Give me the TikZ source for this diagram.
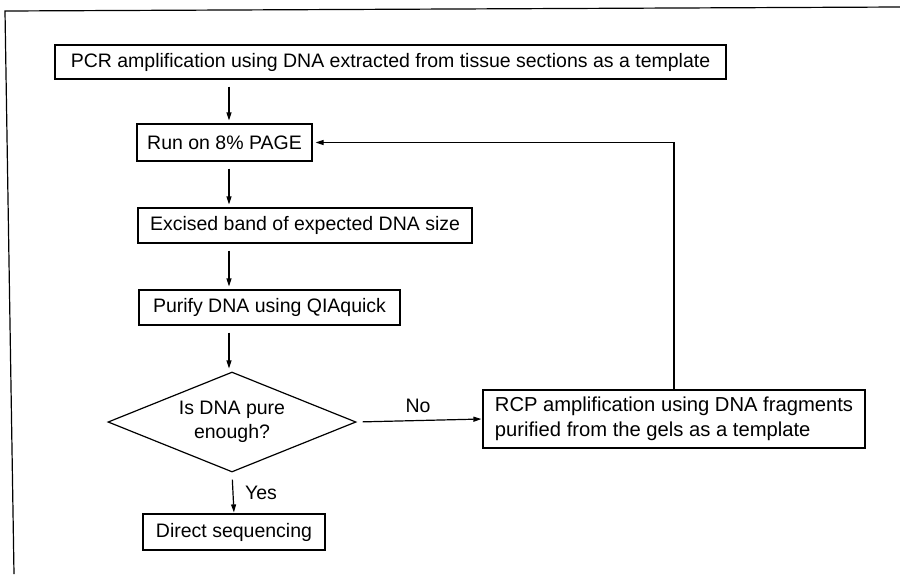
\documentclass[tikz,border=0pt]{standalone}
\usepackage{fontspec}
\setmainfont{Liberation Sans}
\usetikzlibrary{arrows.meta,shapes.geometric}
\begin{document}
\begin{tikzpicture}[x=1pt,y=-1pt,
  every node/.style={font=\fontsize{19.5}{24.5}\selectfont},
  box/.style={draw,line width=1.2pt,inner sep=0pt,align=center},
  dec/.style={draw,line width=1.2pt,diamond,aspect=2.48,inner sep=0pt,minimum width=248pt,minimum height=100pt,align=center},
  lbl/.style={inner sep=0pt},
  arr/.style={line width=1.2pt,-{Triangle[length=8pt,width=5pt]},shorten <=7pt,shorten >=3pt}]
\useasboundingbox (0,0) rectangle (900,574);
% frame
\draw[line width=1.2pt] (900,7) -- (5,11) -- (14,574);
% nodes
\node[box,minimum width=671pt,minimum height=34pt] (b1) at (390.5,62) {PCR amplification using DNA extracted from tissue sections as a template};
\node[box,minimum width=175pt,minimum height=37pt] (b2) at (224.5,142.5) {Run on 8\% PAGE};
\node[box,minimum width=334pt,minimum height=35pt] (b3) at (305,225.5) {Excised band of expected DNA size};
\node[box,minimum width=261pt,minimum height=35pt] (b4) at (269.5,307.5) {Purify DNA using QIAquick};
\node[dec] (d) at (232,422) {Is DNA pure\\enough?};
\node[box,minimum width=382pt,minimum height=58pt,align=left] (b5) at (674,419) {\fontsize{20.2}{24.5}\selectfont RCP amplification using DNA fragments\\\fontsize{20.2}{24.5}\selectfont purified from the gels as a template};
\node[box,minimum width=182pt,minimum height=36pt] (b6) at (234,532) {Direct sequencing};
\node[lbl] (no) at (418,406) {No};
\node[lbl] (yes) at (261,493) {Yes};
\coordinate (ax) at (229,0);
% connectors
\draw[arr] (b1.south -| ax) -- (b2.north -| ax);
\draw[arr] (b2.south -| ax) -- (b3.north -| ax);
\draw[arr] (b3.south -| ax) -- (b4.north -| ax);
\draw[arr] (b4.south -| ax) -- (d.north -| ax);
\draw[arr,shorten <=6pt,shorten >=1pt] (d.east) -- (b5.west);
\draw[arr,shorten <=7pt,shorten >=1pt] (d.south) -- (b6.north);
\draw[arr,shorten <=0pt] (b5.north) |- (b2.east);
\end{tikzpicture}
\end{document}
